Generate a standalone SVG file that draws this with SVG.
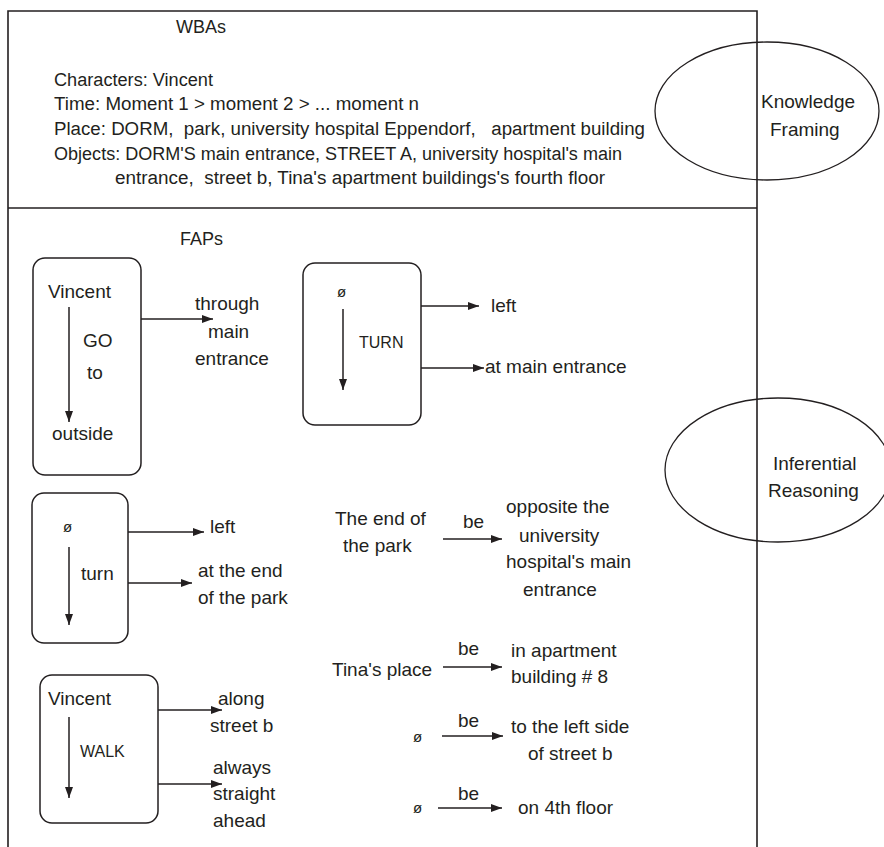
<svg xmlns="http://www.w3.org/2000/svg" width="884" height="847" viewBox="0 0 884 847">
  <defs>
    <style>
      text { font-family: "Liberation Sans", Arial, sans-serif; fill: #231f20; font-size: 19px; }
      .wba { font-size: 18px; }
      .small { font-size: 16px; }
      .phi { font-size: 15px; }
      .frame { fill: none; stroke: #231f20; stroke-width: 1.6; }
      .box { fill: none; stroke: #231f20; stroke-width: 1.5; }
      .oval { fill: none; stroke: #231f20; stroke-width: 1.3; }
      .arrow { fill: none; stroke: #231f20; stroke-width: 1.5; marker-end: url(#head); }
    </style>
    <marker id="head" markerUnits="userSpaceOnUse" markerWidth="12" markerHeight="8" refX="11" refY="4" orient="auto">
      <path d="M0,0 L11,4 L0,8 Z" fill="#231f20"/>
    </marker>
  </defs>
  <rect width="884" height="847" fill="#ffffff"/>

  <!-- outer frame and section divider -->
  <g id="frame">
    <path class="frame" d="M8,847 V11 H757 V847"/>
    <line class="frame" x1="8" y1="208" x2="757" y2="208"/>
  </g>

  <!-- WBAs section -->
  <g id="wbas">
    <text x="176" y="33" class="wba">WBAs</text>
    <text x="54" y="86" class="wba" textLength="159" lengthAdjust="spacingAndGlyphs">Characters: Vincent</text>
    <text x="54" y="110" class="wba" textLength="365" lengthAdjust="spacingAndGlyphs">Time: Moment 1 &gt; moment 2 &gt; ... moment n</text>
    <text x="54" y="135" class="wba" textLength="591" lengthAdjust="spacingAndGlyphs" style="white-space:pre">Place: DORM,  park, university hospital Eppendorf,   apartment building</text>
    <text x="54" y="160" class="wba" textLength="568" lengthAdjust="spacingAndGlyphs">Objects: DORM'S main entrance, STREET A, university hospital's main</text>
    <text x="115" y="184" class="wba" textLength="490" lengthAdjust="spacingAndGlyphs" style="white-space:pre">entrance,  street b, Tina's apartment buildings's fourth floor</text>
  </g>

  <g id="knowledge-framing">
    <ellipse class="oval" cx="767" cy="111" rx="112" ry="69"/>
    <text x="761" y="108">Knowledge</text>
    <text x="770" y="136">Framing</text>
  </g>

  <g id="inferential-reasoning">
    <ellipse class="oval" cx="778" cy="470" rx="113" ry="72"/>
    <text x="773" y="470">Inferential</text>
    <text x="768" y="497">Reasoning</text>
  </g>

  <!-- FAPs section -->
  <text x="180" y="245" class="wba">FAPs</text>

  <g id="fap-go">
    <rect class="box" x="33" y="258" width="108" height="217" rx="12"/>
    <text x="48" y="298">Vincent</text>
    <text x="83" y="347">GO</text>
    <text x="87" y="379">to</text>
    <text x="52" y="440">outside</text>
  </g>
  <g id="go-target">
    <text x="195" y="310">through</text>
    <text x="208" y="338">main</text>
    <text x="195" y="365">entrance</text>
  </g>

  <g id="fap-turn-upper">
    <rect class="box" x="303" y="263" width="118" height="162" rx="12"/>
    <text x="337" y="297" class="phi">ø</text>
    <text x="359" y="348" class="small">TURN</text>
  </g>
  <g id="turn-upper-targets">
    <text x="491" y="312">left</text>
    <text x="485" y="373">at main entrance</text>
  </g>

  <g id="fap-turn-lower">
    <rect class="box" x="32" y="493" width="96" height="150" rx="12"/>
    <text x="63" y="532" class="phi">ø</text>
    <text x="81" y="580">turn</text>
  </g>
  <g id="turn-lower-targets">
    <text x="210" y="533">left</text>
    <text x="198" y="577">at the end</text>
    <text x="198" y="604">of the park</text>
  </g>

  <g id="fap-walk">
    <rect class="box" x="40" y="675" width="118" height="148" rx="12"/>
    <text x="48" y="705">Vincent</text>
    <text x="80" y="757" class="small">WALK</text>
  </g>
  <g id="walk-targets">
    <text x="218" y="705">along</text>
    <text x="210" y="732">street b</text>
    <text x="213" y="774">always</text>
    <text x="213" y="800">straight</text>
    <text x="213" y="827">ahead</text>
  </g>

  <g id="fact-park-end">
    <text x="335" y="525">The end of</text>
    <text x="343" y="552">the park</text>
    <text x="463" y="528">be</text>
    <text x="506" y="513">opposite the</text>
    <text x="519" y="542">university</text>
    <text x="506" y="568">hospital's main</text>
    <text x="523" y="596">entrance</text>
  </g>

  <g id="fact-tina-place">
    <text x="332" y="676">Tina's place</text>
    <text x="458" y="655">be</text>
    <text x="511" y="657">in apartment</text>
    <text x="511" y="683">building # 8</text>
  </g>

  <g id="fact-left-side">
    <text x="413" y="742" class="phi">ø</text>
    <text x="458" y="727">be</text>
    <text x="511" y="733">to the left side</text>
    <text x="528" y="760">of street b</text>
  </g>

  <g id="fact-floor">
    <text x="413" y="813" class="phi">ø</text>
    <text x="458" y="800">be</text>
    <text x="518" y="814">on 4th floor</text>
  </g>

  <!-- connectors -->
  <g id="connectors">
    <line class="arrow" x1="69" y1="307" x2="69" y2="422"/>
    <line class="arrow" x1="141" y1="319" x2="213" y2="319"/>
    <line class="arrow" x1="343" y1="309" x2="343" y2="390"/>
    <line class="arrow" x1="421" y1="306" x2="479" y2="306"/>
    <line class="arrow" x1="421" y1="368" x2="484" y2="368"/>
    <line class="arrow" x1="69" y1="547" x2="69" y2="625"/>
    <line class="arrow" x1="128" y1="532" x2="204" y2="532"/>
    <line class="arrow" x1="128" y1="583" x2="192" y2="583"/>
    <line class="arrow" x1="69" y1="717" x2="69" y2="798"/>
    <line class="arrow" x1="158" y1="710" x2="222" y2="710"/>
    <line class="arrow" x1="158" y1="784" x2="222" y2="784"/>
    <line class="arrow" x1="443" y1="539" x2="502" y2="539"/>
    <line class="arrow" x1="443" y1="667" x2="502" y2="667"/>
    <line class="arrow" x1="442" y1="736" x2="503" y2="736"/>
    <line class="arrow" x1="438" y1="808" x2="502" y2="808"/>
  </g>
</svg>
